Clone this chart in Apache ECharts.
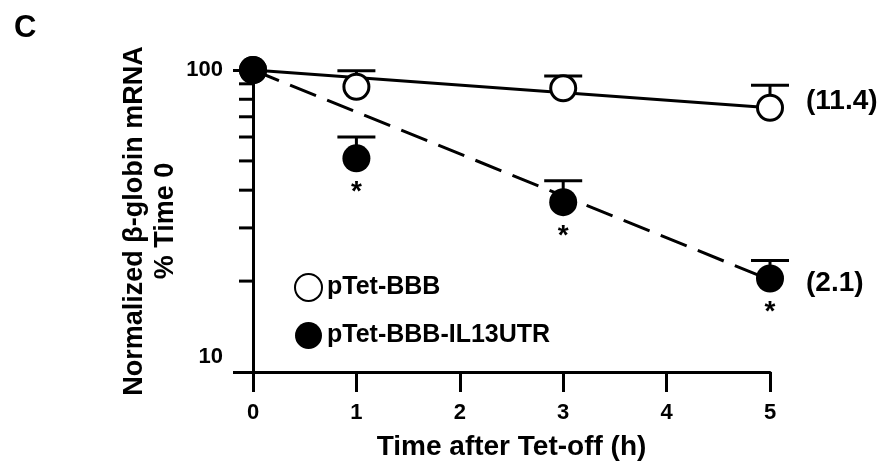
<!DOCTYPE html>
<html>
<head>
<meta charset="utf-8">
<script src="https://cdn.jsdelivr.net/npm/echarts@6/dist/echarts.min.js"></script>
<style>
  html, body { margin: 0; padding: 0; background: #fff; }
  #chart { width: 884px; height: 466px; }
</style>
</head>
<body>
<div id="chart"></div>
<script>
// time points (h) and % of time 0
const timePoints = [0, 1, 3, 5]
const bbbMean = [100, 88, 87, 75]
const bbbUpper = [100, 99.5, 95.5, 89]
const utrMean = [100, 51, 36.5, 20.4]
const utrUpper = [100, 60, 43, 23.4]

// fitted decay lines (start / end)
const bbbFit = [[0, 100], [5, 75]]
const utrFit = [[0, 100], [5, 20.2]]
const halfLives = ['(11.4)', '(2.1)']

// significance markers on the IL13UTR series
const sigTimes = [1, 3, 5]

const xTicks = [0, 1, 2, 3, 4, 5]
const yMinorTicks = [20, 30, 40, 50, 60, 70, 80, 90]

const FONT = 'Liberation Sans, Arial, sans-serif'

const chart = echarts.init(document.getElementById('chart'))

const pairs = (xs, ys) => xs.map((x, i) => [x, ys[i]])
const errRows = (xs, m, u) => xs.map((x, i) => [x, m[i], u[i]]).filter(r => r[2] > r[1])

function renderErr(params, api) {
  const x = api.value(0)
  const p0 = api.coord([x, api.value(1)])
  const p1 = api.coord([x, api.value(2)])
  const style = { stroke: '#000', lineWidth: 3 }
  return {
    type: 'group',
    children: [
      { type: 'line', shape: { x1: p0[0], y1: p0[1], x2: p1[0], y2: p1[1] }, style },
      { type: 'line', shape: { x1: p1[0] - 19, y1: p1[1], x2: p1[0] + 19, y2: p1[1] }, style },
    ],
  }
}

function renderStar(params, api) {
  const p = api.coord([api.value(0), api.value(1)])
  return {
    type: 'text',
    x: p[0],
    y: p[1] + 34,
    style: { text: '*', fill: '#000', font: 'bold 28px ' + FONT, align: 'center', verticalAlign: 'middle' },
  }
}

function renderMinor(params, api) {
  const p = api.coord([0, api.value(0)])
  return {
    type: 'line',
    shape: { x1: p[0] - 14, y1: p[1], x2: p[0], y2: p[1] },
    style: { stroke: '#000', lineWidth: 3 },
  }
}

const option = {
  animation: false,
  backgroundColor: '#fff',
  textStyle: { fontFamily: FONT },
  title: {
    text: 'C',
    left: 9,
    top: 8,
    textStyle: { fontSize: 31, fontWeight: 'bold', color: '#000', fontFamily: FONT },
  },
  grid: { left: 253, right: 114, top: 70, bottom: 92 },
  legend: {
    data: ['pTet-BBB', 'pTet-BBB-IL13UTR'],
    orient: 'vertical',
    left: 289,
    top: 268,
    itemWidth: 27,
    itemHeight: 27,
    itemGap: 20,
    textStyle: { fontSize: 25, fontWeight: 'bold', color: '#000', fontFamily: FONT },
  },
  xAxis: {
    type: 'value',
    min: 0,
    max: 5,
    interval: 1,
    name: 'Time after Tet-off (h)',
    nameLocation: 'middle',
    nameGap: 61,
    nameMoveOverlap: false,
    nameTextStyle: { fontSize: 28, fontWeight: 'bold', color: '#000', fontFamily: FONT },
    axisLine: { lineStyle: { color: '#000', width: 3 } },
    axisTick: { length: 20, lineStyle: { color: '#000', width: 3 } },
    axisLabel: {
      margin: 30,
      fontSize: 22,
      fontWeight: 'bold',
      color: '#000',
      formatter: v => (xTicks.includes(v) ? String(v) : ''),
    },
    splitLine: { show: false },
  },
  yAxis: {
    type: 'log',
    logBase: 10,
    min: 10,
    max: 100,
    name: 'Normalized β-globin mRNA\n% Time 0',
    nameLocation: 'middle',
    nameRotate: 90,
    nameGap: 72,
    nameMoveOverlap: false,
    nameTextStyle: { fontSize: 27, fontWeight: 'bold', color: '#000', lineHeight: 31, fontFamily: FONT },
    axisLine: { lineStyle: { color: '#000', width: 3 } },
    axisTick: { length: 20, lineStyle: { color: '#000', width: 3 } },
    axisLabel: {
      margin: 30,
      fontSize: 22,
      fontWeight: 'bold',
      color: '#000',
      formatter: v => (v === 10 ? '{low|10}' : String(v)),
      rich: { low: { fontSize: 22, fontWeight: 'bold', color: '#000', padding: [0, 0, 30, 0] } },
    },
    splitLine: { show: false },
  },
  series: [
    {
      type: 'custom',
      renderItem: renderMinor,
      data: yMinorTicks.map(v => [v]),
      encode: { y: 0 },
      clip: false,
      silent: true,
      z: 1,
    },
    {
      name: 'fit-bbb',
      type: 'line',
      data: bbbFit,
      showSymbol: false,
      lineStyle: { color: '#000', width: 3 },
      endLabel: {
        show: true,
        formatter: halfLives[0],
        distance: 36,
        offset: [0, -6],
        fontSize: 28,
        fontWeight: 'bold',
        color: '#000',
        fontFamily: FONT,
      },
      z: 2,
    },
    {
      name: 'fit-utr',
      type: 'line',
      data: utrFit,
      showSymbol: false,
      lineStyle: { color: '#000', width: 3, type: [28, 12] },
      endLabel: {
        show: true,
        formatter: halfLives[1],
        distance: 36,
        offset: [0, 3],
        fontSize: 28,
        fontWeight: 'bold',
        color: '#000',
        fontFamily: FONT,
      },
      z: 2,
    },
    {
      type: 'custom',
      renderItem: renderErr,
      data: errRows(timePoints, bbbMean, bbbUpper).concat(errRows(timePoints, utrMean, utrUpper)),
      encode: { x: 0, y: [1, 2] },
      z: 3,
    },
    {
      name: 'pTet-BBB',
      type: 'scatter',
      symbol: 'circle',
      symbolSize: 25,
      data: pairs(timePoints, bbbMean),
      itemStyle: { color: '#fff', borderColor: '#000', borderWidth: 3, opacity: 1 },
      z: 4,
    },
    {
      name: 'pTet-BBB-IL13UTR',
      type: 'scatter',
      symbol: 'circle',
      symbolSize: 28,
      data: pairs(timePoints, utrMean),
      itemStyle: { color: '#000', borderColor: '#000', borderWidth: 0, opacity: 1 },
      z: 5,
    },
    {
      type: 'custom',
      renderItem: renderStar,
      data: sigTimes.map(t => [t, utrMean[timePoints.indexOf(t)]]),
      encode: { x: 0, y: 1 },
      z: 5,
    },
  ],
}

chart.setOption(option)
</script>
</body>
</html>
